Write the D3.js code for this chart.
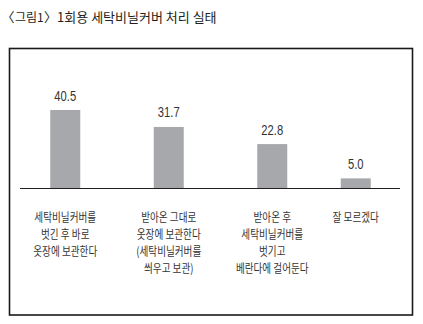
<!DOCTYPE html>
<html>
<head>
<meta charset="utf-8">
<script src="https://cdn.jsdelivr.net/npm/d3@7"></script>
<style>
  html, body { margin: 0; padding: 0; background: #fff; }
  svg { display: block; }
</style>
</head>
<body>
<svg id="chart" width="423" height="324"></svg>
<script>
// 1회용 세탁비닐커버 처리 실태 (%)
const titleParts = ["〈", "그림1", "〉", "1회용 세탁비닐커버 처리 실태"];
const categories = [
  "세탁비닐커버를\n벗긴 후 바로\n옷장에 보관한다",
  "받아온 그대로\n옷장에 보관한다\n(세탁비닐커버를\n씌우고 보관)",
  "받아온 후\n세탁비닐커버를\n벗기고\n베란다에 걸어둔다",
  "잘 모르겠다"
];
const values = [40.5, 31.7, 22.8, 5.0];
const valueLabels = ["40.5", "31.7", "22.8", "5.0"];

// layout
const frame = { x: 9.5, y: 48.5, w: 403, h: 266.5 };
const baseY = 188;
const axisX0 = 20, axisX1 = 400;
const barW = 30;
const colNudge = [0, 0, 0, -20]; // last column sits closer to its neighbour
const narrow = 0.8;              // condensed lettering
const titleKern = [0, 0.5, 0.3, 0];       // spacing around the full-width brackets
const titleSize = [13, 12, 13, 13];

const svg = d3.select("#chart");
const cjk = "'Noto Sans CJK KR', 'Noto Sans', sans-serif";

// title as one line
const title = svg.append("text")
  .attr("x", 1.5).attr("y", 22)
  .attr("font-family", cjk)
  .attr("fill", "#231f20");
titleParts.forEach((t, i) => {
  title.append("tspan")
    .attr("dx", titleKern[i])
    .attr("font-size", titleSize[i])
    .text(t);
});

svg.append("rect")
  .attr("x", frame.x).attr("y", frame.y)
  .attr("width", frame.w).attr("height", frame.h)
  .attr("fill", "none").attr("stroke", "#1a1a1a").attr("stroke-width", 1.6);

const x = d3.scaleBand()
  .domain(categories)
  .range([13.5, 427.5])
  .paddingInner(0).paddingOuter(0);

const y = d3.scaleLinear()
  .domain([0, 40.5])
  .range([baseY, 110]);

const cx = (d, i) => x(d) + x.bandwidth() / 2 + colNudge[i];

svg.append("g").selectAll("rect")
  .data(categories)
  .join("rect")
  .attr("x", (d, i) => cx(d, i) - barW / 2)
  .attr("y", (d, i) => y(values[i]))
  .attr("width", barW)
  .attr("height", (d, i) => baseY - y(values[i]))
  .attr("fill", "#a7a8ab");

svg.append("line")
  .attr("x1", axisX0).attr("x2", axisX1)
  .attr("y1", baseY + 0.5).attr("y2", baseY + 0.5)
  .attr("stroke", "#231f20").attr("stroke-width", 1);

// value labels above bars
svg.append("g").selectAll("text")
  .data(categories)
  .join("text")
  .attr("transform", (d, i) => `translate(${cx(d, i)},${y(values[i]) - 9.5}) scale(${narrow},1)`)
  .attr("text-anchor", "middle")
  .attr("font-family", "'Liberation Sans', Arial, sans-serif")
  .attr("font-size", 14)
  .attr("fill", "#333")
  .text((d, i) => valueLabels[i]);

// category labels under the axis
const lab = svg.append("g").selectAll("text")
  .data(categories)
  .join("text")
  .attr("transform", (d, i) => `translate(${cx(d, i)},0) scale(${narrow},1)`)
  .attr("text-anchor", "middle")
  .attr("font-family", cjk)
  .attr("font-size", 12)
  .attr("fill", "#333");

lab.each(function (d) {
  const t = d3.select(this);
  d.split("\n").forEach((line, k) => {
    t.append("tspan")
      .attr("x", 0)
      .attr("y", 222 + k * 17)
      .text(line);
  });
});
</script>
</body>
</html>
